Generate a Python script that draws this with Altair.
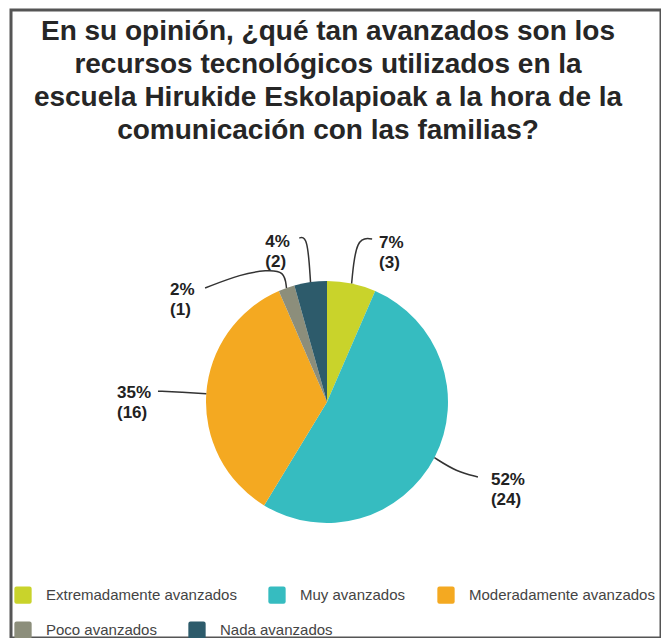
import altair as alt
import numpy as np
import pandas as pd

# ---------------- data ----------------
categories = [
    "Extremadamente avanzados",
    "Muy avanzados",
    "Moderadamente avanzados",
    "Poco avanzados",
    "Nada avanzados",
]
counts = [3, 24, 16, 1, 2]
colors = ["#c9d32b", "#36bcc0", "#f4a921", "#8c8e7b", "#2d5b6b"]
title_lines = [
    "En su opinión, ¿qué tan avanzados son los",
    "recursos tecnológicos utilizados en la",
    "escuela Hirukide Eskolapioak a la hora de la",
    "comunicación con las familias?",
]

# ---------------- layout (pixels) ----------------
OX, OY = 11, 10            # view origin on the page
W, H = 650, 628
CX, CY, R = 327 - OX, 402 - OY, 121
# leader line shape, offsets from the slice's edge point
leader_shape = {
    "Extremadamente avanzados": [(0, 0), (4.5, -46.5), (20.5, -44.5)],
    "Muy avanzados": [(0, 0), (22, 14), (43.5, 19.3)],
    "Moderadamente avanzados": [(0, 0), (-24, -1.5), (-48.3, -2.6)],
    "Poco avanzados": [(0, 0), (-2, -17), (-20, -18), (-45, -14), (-81.4, 0)],
    "Nada avanzados": [(0, 0), (-3, -46), (-11.2, -44.2)],
}
# label (left x, first baseline), offsets from the slice's edge point
label_offset = {
    "Extremadamente avanzados": (27.5, -35.5),
    "Muy avanzados": (56.5, 27.3),
    "Moderadamente avanzados": (-89.3, 4.4),
    "Poco avanzados": (-116.4, 7),
    "Nada avanzados": (-45.2, -35.2),
}

total = sum(counts)
cum = np.cumsum([0] + counts)
mid = (cum[:-1] + cum[1:]) / 2 / total
ang = 2 * np.pi * mid
edge_x = CX + R * np.sin(ang)
edge_y = CY - R * np.cos(ang)

df = pd.DataFrame({"cat": categories, "n": counts, "idx": range(len(categories))})

lead_rows = []
lab_rows = []
for i, c in enumerate(categories):
    for k, (dx, dy) in enumerate(leader_shape[c]):
        lead_rows.append({"cat": c, "k": k, "px": edge_x[i] + dx, "py": edge_y[i] + dy})
    pct = round(counts[i] / total * 100)
    lx, ly = label_offset[c]
    lab_rows.append({"cat": c, "txt": f"{pct}%\n({counts[i]})",
                     "px": edge_x[i] + lx, "py": edge_y[i] + ly})
lead_df = pd.DataFrame(lead_rows)
lab_df = pd.DataFrame(lab_rows)

ROUNDED = ("M-0.75,-1H0.75Q1,-1,1,-0.75V0.75Q1,1,0.75,1H-0.75"
           "Q-1,1,-1,0.75V-0.75Q-1,-1,-0.75,-1Z")
FONT = "Liberation Sans"

def legend(vals, ly):
    return alt.Legend(
        orient="none", legendX=3, legendY=ly, direction="horizontal",
        title=None, values=vals, symbolType=ROUNDED, symbolSize=300,
        symbolStrokeWidth=0, symbolOpacity=1, labelFont=FONT, labelFontSize=15,
        labelColor="#444444", labelOffset=14, columnPadding=31, padding=0,
        labelLimit=400,
    )

pie = alt.Chart(df).mark_arc(outerRadius=R, x=CX, y=CY, stroke=None).encode(
    theta=alt.Theta("n:Q", stack=True),
    order=alt.Order("idx:Q"),
    color=alt.Color("cat:N", scale=alt.Scale(domain=categories, range=colors),
                    legend=legend(categories[:3], 576)),
)

legend2 = alt.Chart(df.iloc[3:]).mark_arc(outerRadius=0, innerRadius=0, x=CX, y=CY).encode(
    fill=alt.Fill("cat:N", scale=alt.Scale(domain=categories[3:], range=colors[3:]),
                  legend=legend(categories[3:], 611)),
)

leaders = alt.Chart(lead_df).mark_line(
    interpolate="basis", color="#333333", strokeWidth=1.5
).encode(
    x=alt.X("px:Q", scale=None, axis=None),
    y=alt.Y("py:Q", scale=None, axis=None),
    detail="cat:N",
    order="k:Q",
)

labels = alt.Chart(lab_df).mark_text(
    align="left", baseline="alphabetic", fontSize=17, fontWeight="bold",
    font=FONT, color="#222222", lineBreak="\n", lineHeight=20,
).encode(
    x=alt.X("px:Q", scale=None, axis=None),
    y=alt.Y("py:Q", scale=None, axis=None),
    text="txt:N",
)

title = alt.Chart(pd.DataFrame({"t": ["\n".join(title_lines)]})).mark_text(
    x=328 - OX, y=40 - OY, align="center", baseline="alphabetic", fontSize=28,
    fontWeight="bold", font=FONT, color="#262626", lineBreak="\n", lineHeight=33,
).encode(text="t:N")

chart = alt.layer(pie, legend2, leaders, labels, title).properties(
    width=W, height=H,
    autosize=alt.AutoSizeParams(type="none"),
    padding={"left": 3, "top": 2, "right": 0, "bottom": 0},
    background="white",
).resolve_scale(color="independent").configure_view(
    stroke="#555555", strokeWidth=3
)

chart.save("out.html", embed_options={"renderer": "svg", "actions": False})
